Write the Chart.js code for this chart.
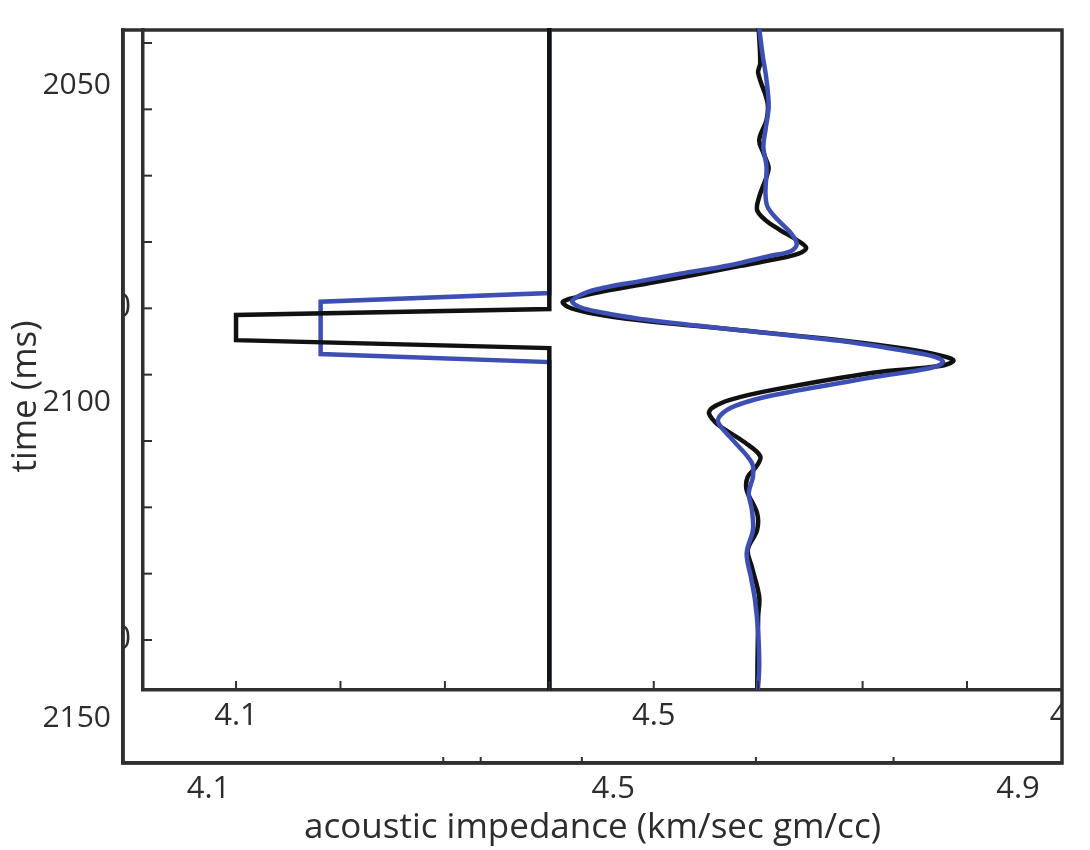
<!DOCTYPE html>
<html><head><meta charset="utf-8">
<script src="https://cdn.jsdelivr.net/npm/chart.js@4"></script>
<style>
html,body{margin:0;padding:0;background:#fff;}
#wrap{position:relative;width:1090px;height:850px;overflow:hidden;background:#fff;}
#outer{position:absolute;left:0;top:0;}
#clip{position:absolute;left:124px;top:28px;width:937px;height:722px;overflow:hidden;}
#inner{position:absolute;left:-104px;top:-45px;}
</style></head><body>
<div id="wrap">
<canvas id="outer" width="1090" height="850"></canvas>
<div id="clip"><canvas id="inner" width="1105" height="767"></canvas></div>
</div>
<script>
// ---- data (impedance in km/sec gm/cc, time in ms) ----
const blockBlackImp  = [4.4, 4.4, 4.1, 4.1, 4.4, 4.4];
const blockBlackTime = [2055, 2100.1, 2101.0, 2104.8, 2106.0, 2160];
const blockBlueImp   = [4.4, 4.4, 4.181, 4.181, 4.4, 4.4];
const blockBlueTime  = [2055, 2097.7, 2099.0, 2106.9, 2108.1, 2160];

const waveBlackImp  = [4.600,4.602,4.600,4.609,4.608,4.601,4.605,4.610,4.608,4.601,4.599,4.607,4.621,4.637,4.646,4.638,4.616,4.583,4.544,4.496,4.453,4.427,4.413,4.418,4.439,4.487,4.583,4.678,4.741,4.777,4.787,4.774,4.710,4.614,4.573,4.556,4.553,4.562,4.587,4.602,4.598,4.590,4.589,4.599,4.599,4.590,4.594,4.601,4.600,4.599];
const waveBlackTime = [2056.5,2063.0,2064.5,2069.0,2071.6,2074.6,2076.6,2078.7,2080.2,2083.2,2085.2,2086.7,2088.2,2089.7,2090.9,2091.8,2092.6,2093.6,2094.8,2096.2,2097.4,2098.3,2099.0,2099.8,2100.7,2101.8,2103.3,2104.8,2106.1,2107.2,2107.9,2108.7,2109.7,2112.3,2113.8,2115.0,2115.9,2117.6,2120.2,2122.3,2123.9,2125.4,2127.4,2130.9,2133.4,2136.4,2139.0,2143.5,2146.5,2159.0];

const waveBlueImp  = [4.600,4.604,4.608,4.610,4.607,4.605,4.608,4.607,4.609,4.619,4.631,4.637,4.631,4.611,4.573,4.525,4.487,4.455,4.434,4.422,4.429,4.449,4.487,4.583,4.678,4.736,4.769,4.777,4.765,4.710,4.614,4.578,4.564,4.562,4.576,4.594,4.595,4.591,4.594,4.595,4.589,4.593,4.597,4.600,4.601,4.599];
const waveBlueTime = [2056.5,2061.5,2065.6,2069.6,2073.1,2075.7,2078.7,2082.6,2084.7,2086.7,2088.6,2090.3,2091.4,2092.1,2093.5,2094.8,2095.9,2096.8,2097.7,2098.9,2099.8,2100.6,2101.6,2103.3,2104.9,2106.3,2107.3,2108.1,2109.0,2110.4,2113.1,2114.7,2116.1,2117.3,2119.9,2123.3,2125.4,2127.8,2130.4,2133.4,2136.9,2140.5,2144.0,2148.9,2154.1,2159.0];

// ---- tick labels ----
const outerXLabels = [4.1, 4.5, 4.9];
const outerXMinorTicks = [4.332, 4.369, 4.469, 4.641, 4.777];
const outerYLabels = [2050, 2100, 2150];
const innerXTicks  = [4.1, 4.2, 4.3, 4.4, 4.5, 4.6, 4.7, 4.8, 4.9];
const innerXLabels = [4.1, 4.5, 4.9];
const innerYTicks  = [2060, 2070, 2080, 2090, 2100, 2110, 2120, 2130, 2140, 2150];
const innerYLabels = [2100, 2150];

const FONT = "'Open Sans', sans-serif";
const TXT = '#2d2d2d';
const FRAME = '#2f2f2f';
const BLACK = '#111111';
const BLUE = '#3d4fb3';

const pts = (xs, ys) => xs.map((x, i) => ({x: x, y: ys[i]}));
const isIn = (arr, v) => arr.some(a => Math.abs(a - v) < 1e-6);

// ---------- outer frame chart ----------
const outerFrame = {
  id: 'outerFrame',
  afterDraw(chart) {
    const {ctx, chartArea: a} = chart;
    ctx.save();
    ctx.strokeStyle = FRAME;
    ctx.lineWidth = 3.5;
    ctx.strokeRect(a.left, a.top, a.right - a.left, a.bottom - a.top);
    ctx.lineWidth = 2;
    const sx = chart.scales.x;
    outerXMinorTicks.forEach(v => {
      const px = sx.getPixelForValue(v);
      ctx.beginPath(); ctx.moveTo(px, a.bottom); ctx.lineTo(px, a.bottom - 6); ctx.stroke();
    });
    ctx.restore();
  }
};

new Chart(document.getElementById('outer'), {
  type: 'scatter',
  data: {datasets: []},
  options: {
    responsive: false, animation: false, devicePixelRatio: 1,
    layout: {padding: {top: 27, right: 28, left: 0, bottom: 0}, autoPadding: false},
    plugins: {legend: {display: false}, tooltip: {enabled: false}},
    scales: {
      x: {
        type: 'linear', position: 'bottom', min: 4.0155, max: 4.9435,
        afterFit(s) { s.height = 87; },
        afterBuildTicks(s) { s.ticks = outerXLabels.map(v => ({value: v})); },
        grid: {display: false, drawTicks: false},
        border: {display: true, color: FRAME, width: 3.5},
        ticks: {autoSkip: false, maxRotation: 0, padding: 8, color: TXT,
          font: {family: FONT, size: 31}, callback: v => Number(v).toFixed(1)},
        title: {display: true, text: 'acoustic impedance (km/sec gm/cc)', color: TXT,
          font: {family: FONT, size: 35}, padding: {top: 0, bottom: 1}}
      },
      y: {
        type: 'linear', position: 'left', reverse: true, min: 2041.18, max: 2157.09,
        afterFit(s) { s.width = 123; },
        afterBuildTicks(s) { s.ticks = outerYLabels.map(v => ({value: v})); },
        grid: {display: false, drawTicks: false},
        border: {display: true, color: FRAME, width: 3.5},
        ticks: {autoSkip: false, padding: 12, color: TXT,
          font: {family: FONT, size: 30}, callback: v => String(v)},
        title: {display: true, text: 'time (ms)', color: TXT,
          font: {family: FONT, size: 35}, padding: {top: 5, bottom: 0}}
      }
    }
  },
  plugins: [outerFrame]
});

// ---------- inner data chart ----------
const innerTicks = {
  id: 'innerTicks',
  afterDraw(chart) {
    const {ctx, chartArea: a} = chart;
    const sx = chart.scales.x, sy = chart.scales.y;
    ctx.save();
    ctx.strokeStyle = FRAME;
    ctx.lineWidth = 2;
    innerXTicks.forEach(v => {
      const px = sx.getPixelForValue(v);
      ctx.beginPath(); ctx.moveTo(px, a.bottom); ctx.lineTo(px, a.bottom - 9); ctx.stroke();
    });
    innerYTicks.forEach(v => {
      const py = sy.getPixelForValue(v);
      ctx.beginPath(); ctx.moveTo(a.left, py); ctx.lineTo(a.left + 9, py); ctx.stroke();
    });
    ctx.restore();
  }
};

const lineDs = (data, color, tension) => ({
  data: data, showLine: true, borderColor: color, backgroundColor: color,
  borderWidth: 4.5, pointRadius: 0, pointHoverRadius: 0, tension: tension,
  borderJoinStyle: 'miter', fill: false
});

new Chart(document.getElementById('inner'), {
  type: 'scatter',
  data: {datasets: [
    lineDs(pts(blockBlackImp, blockBlackTime), BLACK, 0),
    lineDs(pts(waveBlueImp, waveBlueTime), BLUE, 0.35),
    lineDs(pts(waveBlackImp, waveBlackTime), BLACK, 0.35),
    lineDs(pts(blockBlueImp, blockBlueTime), BLUE, 0)
  ]},
  options: {
    responsive: false, animation: false, devicePixelRatio: 1,
    layout: {padding: {top: 45, right: 45, left: 0, bottom: 0}, autoPadding: false},
    plugins: {legend: {display: false}, tooltip: {enabled: false}},
    scales: {
      x: {
        type: 'linear', position: 'bottom', min: 4.0109, max: 4.9082,
        afterFit(s) { s.height = 60; },
        afterBuildTicks(s) { s.ticks = innerXTicks.map(v => ({value: v})); },
        grid: {display: false, drawTicks: false},
        border: {display: true, color: FRAME, width: 3.5},
        ticks: {autoSkip: false, maxRotation: 0, padding: 8, color: TXT,
          font: {family: FONT, size: 31},
          callback: v => isIn(innerXLabels, v) ? Number(v).toFixed(1) : ''}
      },
      y: {
        type: 'linear', position: 'left', reverse: true, min: 2057.74, max: 2157.54,
        afterFit(s) { s.width = 123; },
        afterBuildTicks(s) { s.ticks = innerYTicks.map(v => ({value: v})); },
        grid: {display: false, drawTicks: false},
        border: {display: true, color: FRAME, width: 3.5},
        ticks: {autoSkip: false, padding: 12, color: TXT,
          font: {family: FONT, size: 32},
          callback: v => isIn(innerYLabels, v) ? String(v) : ''}
      }
    }
  },
  plugins: [innerTicks]
});
</script>
</body></html>
